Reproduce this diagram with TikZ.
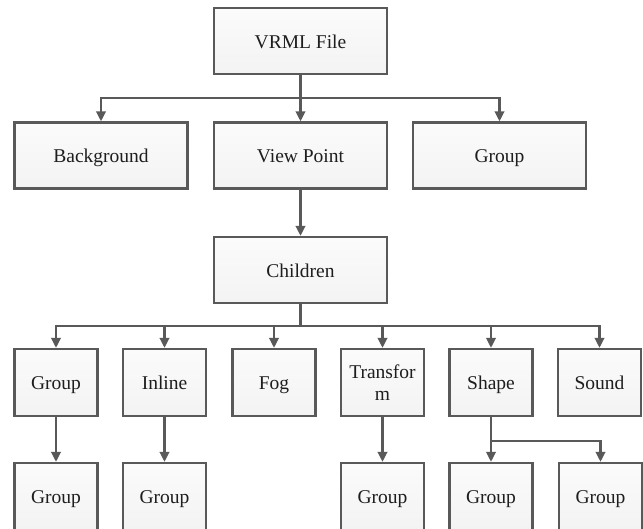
\documentclass[tikz,border=0pt]{standalone}
\usepackage{fontspec}
\setmainfont{Liberation Serif}
\usetikzlibrary{arrows.meta,shadows}
\definecolor{edgegray}{HTML}{595959}
\definecolor{boxtop}{HTML}{FBFBFB}
\definecolor{boxbot}{HTML}{F3F3F3}
\definecolor{inkc}{HTML}{1E1E1E}
\begin{document}
\begin{tikzpicture}[x=1pt,y=-1pt,
  box/.style={draw=edgegray, line width=2.3pt, top color=boxtop, bottom color=boxbot,
    text=inkc, font=\fontsize{19.5}{22}\selectfont, align=center, inner sep=0pt,
    text height=17pt, text depth=3pt,
    drop shadow={shadow xshift=1.2pt, shadow yshift=-1.2pt, opacity=0.15, fill=black}},
  twoline/.style={text height={}, text depth={}},
  wide/.style={box, minimum width=173pt, minimum height=66pt},
  narrow/.style={box, minimum width=83pt, minimum height=67pt},
  link/.style={draw=edgegray, line width=2.2pt, -{Triangle[length=10pt,width=9.5pt]}},
  trunk/.style={draw=edgegray, line width=2.2pt}]
\useasboundingbox (0,0) rectangle (643,528);

% top level
\node[wide] (vrml) at (300.5,41) {VRML File};
\node[wide] (bg)   at (101,155.5) {Background};
\node[wide] (vp)   at (300.5,155.5) {View Point};
\node[wide] (grp)  at (499.5,155.5) {Group};
\node[wide] (ch)   at (300.5,270) {Children};

% children row
\node[narrow] (c1) at (56,382.5)    {Group};
\node[narrow] (c2) at (164.5,382.5) {Inline};
\node[narrow] (c3) at (274,382.5)   {Fog};
\node[narrow,twoline] (c4) at (382.5,382.5) {Transfor\\m};
\node[narrow] (c5) at (491,382.5)   {Shape};
\node[narrow] (c6) at (599.5,382.5) {Sound};

% leaf row
\node[narrow] (d1) at (56,496.5)    {Group};
\node[narrow] (d2) at (164.5,496.5) {Group};
\node[narrow] (d4) at (382.5,496.5) {Group};
\node[narrow] (d5) at (491,496.5)   {Group};
\node[narrow] (d6) at (600.5,496.5) {Group};

% branch points
\coordinate (j1) at (300.5,98);
\coordinate (j2) at (300.5,326);
\coordinate (j3) at (491,441);

% connectors
\draw[trunk] (vrml.south) -- (j1);
\draw[link] (j1) -| (bg.north);
\draw[link] (j1) -- (vp.north);
\draw[link] (j1) -| (grp.north);

\draw[link] (vp.south) -- (ch.north);

\draw[trunk] (ch.south) -- (j2);
\foreach \n in {c1,c2,c3,c4,c5,c6}
  \draw[link] (j2) -| (\n.north);

\draw[link] (c1.south) -- (d1.north);
\draw[link] (c2.south) -- (d2.north);
\draw[link] (c4.south) -- (d4.north);
\draw[link] (c5.south) -- (d5.north);
\draw[link] (j3) -| (d6.north);
\end{tikzpicture}
\end{document}
